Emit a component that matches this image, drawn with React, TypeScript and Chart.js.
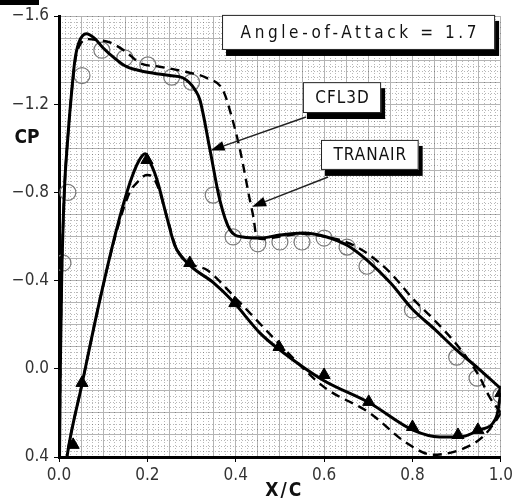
import { useEffect, useRef } from 'react';
import { Chart, registerables } from 'chart.js';

Chart.register(...registerables);

const NARROW = "'Liberation Sans Narrow', 'DejaVu Sans Condensed', 'Liberation Sans', sans-serif";

// ---- tick labels ----
const xTickValues = [0, 0.2, 0.4, 0.6, 0.8, 1.0];
const xTickLabels = ['0.0', '0.2', '0.4', '0.6', '0.8', '1.0'];
const cpTickValues = [-1.6, -1.2, -0.8, -0.4, 0.0, 0.4];
const cpTickLabels = ['\u22121.6', '\u22121.2', '\u22120.8', '\u22120.4', '0.0', '0.4'];

// ---- CFL3D upper surface (solid) ----
const cflUpperX = [0.001, 0.003, 0.006, 0.012, 0.02, 0.027, 0.036, 0.045, 0.062, 0.08, 0.1, 0.125, 0.153, 0.198, 0.251, 0.28, 0.296, 0.308, 0.319, 0.342, 0.364, 0.387, 0.416, 0.455, 0.5, 0.552, 0.606, 0.652, 0.697, 0.75, 0.8, 0.85, 0.9, 0.95, 1.0];
const cflUpperCp = [0.45, 0.0, -0.4, -0.8, -1.05, -1.22, -1.4, -1.48, -1.52, -1.5, -1.455, -1.41, -1.37, -1.346, -1.33, -1.32, -1.296, -1.265, -1.219, -0.99, -0.765, -0.63, -0.598, -0.593, -0.607, -0.616, -0.598, -0.56, -0.493, -0.39, -0.27, -0.18, -0.085, 0.0, 0.09];

// ---- CFL3D lower surface (solid) ----
const cflLowerX = [0.012, 0.018, 0.052, 0.09, 0.13, 0.16, 0.18, 0.195, 0.21, 0.222, 0.244, 0.262, 0.296, 0.35, 0.394, 0.455, 0.5, 0.597, 0.703, 0.8, 0.862, 0.907, 0.952, 0.99, 1.0];
const cflLowerCp = [0.5, 0.4, 0.07, -0.29, -0.63, -0.84, -0.94, -0.975, -0.92, -0.856, -0.688, -0.56, -0.47, -0.39, -0.305, -0.162, -0.085, 0.051, 0.155, 0.277, 0.309, 0.309, 0.277, 0.218, 0.11];

// ---- TRANAIR upper surface (dashed) ----
const tranUpperX = [0.001, 0.003, 0.006, 0.012, 0.02, 0.027, 0.036, 0.045, 0.065, 0.09, 0.115, 0.15, 0.183, 0.228, 0.289, 0.335, 0.371, 0.391, 0.41, 0.432, 0.44, 0.447, 0.46, 0.5, 0.55, 0.6, 0.65, 0.7, 0.75, 0.8, 0.85, 0.9, 0.95, 0.975, 1.0];
const tranUpperCp = [0.45, 0.0, -0.4, -0.8, -1.05, -1.22, -1.39, -1.46, -1.495, -1.49, -1.48, -1.44, -1.387, -1.37, -1.346, -1.318, -1.264, -1.142, -0.99, -0.765, -0.688, -0.6, -0.588, -0.6, -0.612, -0.6, -0.575, -0.52, -0.435, -0.32, -0.22, -0.11, 0.03, 0.13, 0.2];

// ---- TRANAIR lower surface (dashed) ----
const tranLowerX = [0.012, 0.018, 0.052, 0.09, 0.13, 0.16, 0.176, 0.199, 0.212, 0.225, 0.245, 0.265, 0.3, 0.335, 0.4, 0.5, 0.6, 0.703, 0.787, 0.846, 0.907, 0.959, 0.99, 1.0];
const tranLowerCp = [0.5, 0.4, 0.07, -0.29, -0.62, -0.8, -0.843, -0.879, -0.87, -0.82, -0.685, -0.55, -0.475, -0.448, -0.32, -0.11, 0.083, 0.2, 0.337, 0.39, 0.368, 0.309, 0.232, 0.2];

// ---- experiment, upper surface (circles) ----
const expUpperX = [0.009, 0.02, 0.052, 0.097, 0.149, 0.201, 0.255, 0.3, 0.349, 0.394, 0.45, 0.5, 0.55, 0.6, 0.652, 0.697, 0.8, 0.9, 0.946, 1.0];
const expUpperCp = [-0.48, -0.8, -1.33, -1.445, -1.41, -1.378, -1.323, -1.3, -0.788, -0.598, -0.567, -0.575, -0.575, -0.593, -0.552, -0.465, -0.267, -0.053, 0.042, 0.12];

// ---- experiment, lower surface (triangles) ----
const expLowerX = [0.032, 0.052, 0.199, 0.296, 0.398, 0.498, 0.6, 0.701, 0.8, 0.903, 0.948, 1.0];
const expLowerCp = [0.345, 0.064, -0.947, -0.48, -0.298, -0.099, 0.028, 0.15, 0.264, 0.3, 0.277, 0.11];

// ---- annotation text ----
const angleText = 'Angle-of-Attack = 1.7';
const cflText = 'CFL3D';
const tranText = 'TRANAIR';

const pts = (xs: number[], ys: number[]) => xs.map((x, i) => ({ x, y: ys[i] }));

function drawBox(ctx: CanvasRenderingContext2D, x0: number, y0: number, x1: number, y1: number, text: string, size: number, spacing: number) {
  const w = x1 - x0;
  const h = y1 - y0;
  ctx.save();
  ctx.setLineDash([]);
  ctx.fillStyle = '#000';
  ctx.fillRect(x0 + 4, y0 + 6, w, h);
  ctx.fillStyle = '#fff';
  ctx.fillRect(x0, y0, w, h);
  ctx.strokeStyle = '#222';
  ctx.lineWidth = 1;
  ctx.strokeRect(x0 + 0.5, y0 + 0.5, w - 1, h - 1);
  ctx.fillStyle = '#111';
  ctx.font = `${size}px ${NARROW}`;
  (ctx as any).letterSpacing = `${spacing}px`;
  ctx.textAlign = 'center';
  ctx.textBaseline = 'middle';
  ctx.fillText(text, (x0 + x1) / 2 + spacing / 2, (y0 + y1) / 2 + 1);
  (ctx as any).letterSpacing = '0px';
  ctx.restore();
}

function drawArrow(ctx: CanvasRenderingContext2D, xa: number, ya: number, xb: number, yb: number) {
  const ang = Math.atan2(yb - ya, xb - xa);
  const len = 14;
  const half = 5;
  const bx = xb - len * Math.cos(ang);
  const by = yb - len * Math.sin(ang);
  ctx.save();
  ctx.setLineDash([]);
  ctx.strokeStyle = '#222';
  ctx.lineWidth = 1.5;
  ctx.beginPath();
  ctx.moveTo(xa, ya);
  ctx.lineTo(bx, by);
  ctx.stroke();
  ctx.fillStyle = '#000';
  ctx.beginPath();
  ctx.moveTo(xb, yb);
  ctx.lineTo(bx + half * Math.sin(ang), by - half * Math.cos(ang));
  ctx.lineTo(bx - half * Math.sin(ang), by + half * Math.cos(ang));
  ctx.closePath();
  ctx.fill();
  ctx.restore();
}

const annotPlugin = {
  id: 'annot',
  beforeDatasetsDraw(chart: any) {
    const { ctx, chartArea: a, scales } = chart;
    const xs = scales.x;
    const ys = scales.y;
    ctx.save();
    ctx.strokeStyle = 'rgba(0,0,0,0.28)';
    ctx.lineWidth = 1;
    ctx.setLineDash([1, 2]);
    for (let i = 1; i < 80; i++) {
      if (i % 4 === 0) continue;
      const px = Math.round(xs.getPixelForValue(i / 80)) + 0.5;
      ctx.beginPath();
      ctx.moveTo(px, a.top);
      ctx.lineTo(px, a.bottom);
      ctx.stroke();
    }
    for (let j = 1; j < 80; j++) {
      if (j % 4 === 0) continue;
      const py = Math.round(ys.getPixelForValue(-1.6 + j * 0.025)) + 0.5;
      ctx.beginPath();
      ctx.moveTo(a.left, py);
      ctx.lineTo(a.right, py);
      ctx.stroke();
    }
    ctx.restore();
  },
  afterDraw(chart: any) {
    const { ctx, scales } = chart;
    const X = (v: number) => scales.x.getPixelForValue(v);
    const Y = (v: number) => scales.y.getPixelForValue(v);
    // page artifact: black bar at top-left
    ctx.save();
    ctx.fillStyle = '#000';
    ctx.fillRect(0, 0, 39, 5);
    ctx.restore();

    drawBox(ctx, X(0.369), Y(-1.605), X(0.987), Y(-1.446), angleText, 17, 3.6);
    drawArrow(ctx, X(0.559), Y(-1.142), X(0.343), Y(-0.99));
    drawArrow(ctx, X(0.609), Y(-0.87), X(0.437), Y(-0.735));
    drawBox(ctx, X(0.552), Y(-1.3), X(0.729), Y(-1.16), cflText, 17, 1);
    drawBox(ctx, X(0.593), Y(-1.038), X(0.814), Y(-0.902), tranText, 17, 1);

    ctx.save();
    ctx.fillStyle = '#111';
    ctx.font = `bold 19px ${NARROW}`;
    ctx.textAlign = 'center';
    ctx.textBaseline = 'middle';
    ctx.fillText('CP', 27, Y(-1.0) - 10);
    (ctx as any).letterSpacing = '2px';
    ctx.fillText('X/C', X(0.51), 491);
    (ctx as any).letterSpacing = '0px';
    ctx.restore();
  },
};

export default function App() {
  const ref = useRef<HTMLCanvasElement | null>(null);
  useEffect(() => {
    if (!ref.current) return;
    const isXLabel = (v: number) => xTickValues.findIndex((t) => Math.abs(t - v) < 1e-6);
    const isYLabel = (v: number) => cpTickValues.findIndex((t) => Math.abs(t - v) < 1e-6);
    const chart = new Chart(ref.current, {
      type: 'line',
      data: {
        datasets: [
          { label: 'CFL3D upper', data: pts(cflUpperX, cflUpperCp), borderColor: '#000', borderWidth: 3, pointRadius: 0, cubicInterpolationMode: 'monotone', fill: false },
          { label: 'CFL3D lower', data: pts(cflLowerX, cflLowerCp), borderColor: '#000', borderWidth: 3, pointRadius: 0, cubicInterpolationMode: 'monotone', fill: false },
          { label: 'TRANAIR upper', data: pts(tranUpperX, tranUpperCp), borderColor: '#000', borderWidth: 2.4, borderDash: [9, 6], pointRadius: 0, cubicInterpolationMode: 'monotone', fill: false },
          { label: 'TRANAIR lower', data: pts(tranLowerX, tranLowerCp), borderColor: '#000', borderWidth: 2.4, borderDash: [9, 6], pointRadius: 0, cubicInterpolationMode: 'monotone', fill: false },
          { label: 'Exp upper', data: pts(expUpperX, expUpperCp), showLine: false, pointStyle: 'circle', pointRadius: 8, pointBorderWidth: 1.2, pointBorderColor: '#7a7a7a', pointBackgroundColor: 'rgba(0,0,0,0)' },
          { label: 'Exp lower', data: pts(expLowerX, expLowerCp), showLine: false, pointStyle: 'triangle', pointRadius: 7, pointBorderWidth: 1, pointBorderColor: '#000', pointBackgroundColor: '#000' },
        ],
      },
      options: {
        animation: false,
        responsive: false,
        devicePixelRatio: 1,
        layout: { padding: { top: 16, right: 15, left: 0, bottom: 0 } },
        plugins: { legend: { display: false }, tooltip: { enabled: false } },
        scales: {
          x: {
            type: 'linear',
            min: 0,
            max: 1,
            afterFit: (s: any) => { s.height = 42; },
            ticks: {
              stepSize: 0.05,
              autoSkip: false,
              maxRotation: 0,
              padding: 3,
              color: '#333',
              font: { family: NARROW, size: 17 },
              callback: (v: any) => { const i = isXLabel(Number(v)); return i >= 0 ? xTickLabels[i] : ''; },
            },
            grid: {
              color: '#b4b4b4',
              lineWidth: 1,
              tickLength: 5,
              tickColor: (c: any) => (isXLabel(c.tick.value) >= 0 ? '#000' : 'rgba(0,0,0,0)'),
            },
            border: { color: '#000', width: 3 },
          },
          y: {
            type: 'linear',
            min: -1.6,
            max: 0.4,
            reverse: true,
            afterFit: (s: any) => { s.width = 59; },
            ticks: {
              stepSize: 0.1,
              autoSkip: false,
              padding: 5,
              color: '#333',
              font: { family: NARROW, size: 17 },
              callback: (v: any) => { const i = isYLabel(Number(v)); return i >= 0 ? cpTickLabels[i] : ''; },
            },
            grid: {
              color: '#b4b4b4',
              lineWidth: 1,
              tickLength: 5,
              tickColor: (c: any) => (isYLabel(c.tick.value) >= 0 ? '#000' : 'rgba(0,0,0,0)'),
            },
            border: { color: '#000', width: 3 },
          },
        },
      } as any,
      plugins: [annotPlugin],
    });
    return () => chart.destroy();
  }, []);
  return (
    <div style={{ position: 'absolute', left: 0, top: 0, width: 516, height: 499, background: '#fff' }}>
      <canvas ref={ref} width={516} height={499} style={{ width: 516, height: 499, display: 'block' }} />
    </div>
  );
}
